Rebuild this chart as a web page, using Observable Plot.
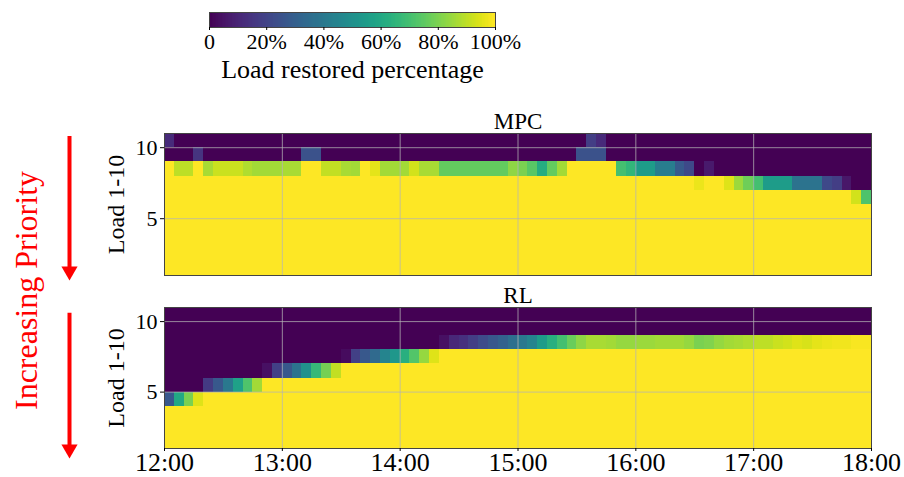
<!DOCTYPE html>
<html>
<head>
<meta charset="utf-8">
<script src="https://cdn.jsdelivr.net/npm/d3@7"></script>
<script src="https://cdn.jsdelivr.net/npm/@observablehq/plot@0.6"></script>
<style>
  body { margin: 0; background: #fff; }
  #chart { position: relative; width: 904px; height: 477px; overflow: hidden; background: #fff;
           font-family: "Liberation Serif", "Times New Roman", serif; }
  #chart > svg { position: absolute; left: 0; }
</style>
</head>
<body>
<div id="chart"></div>
<script>
// ---------- data (percent of load restored, one value per 5-minute slot, 12:00 -> 18:00) ----------
const startHour = 12;
const slotMinutes = 5;
const hourTicks = [12, 13, 14, 15, 16, 17, 18];
const loadTicks = [5, 10];
const colorTicks = [0, 20, 40, 60, 80, 100];
const panelTitles = ["MPC", "RL"];

const mpcLoad1 = [
  100,100,100,100,100,100,100,100,100,100,100,100,
  100,100,100,100,100,100,100,100,100,100,100,100,
  100,100,100,100,100,100,100,100,100,100,100,100,
  100,100,100,100,100,100,100,100,100,100,100,100,
  100,100,100,100,100,100,100,100,100,100,100,100,
  100,100,100,100,100,100,100,100,100,100,100,100];
const mpcLoad2 = [
  100,100,100,100,100,100,100,100,100,100,100,100,
  100,100,100,100,100,100,100,100,100,100,100,100,
  100,100,100,100,100,100,100,100,100,100,100,100,
  100,100,100,100,100,100,100,100,100,100,100,100,
  100,100,100,100,100,100,100,100,100,100,100,100,
  100,100,100,100,100,100,100,100,100,100,100,100];
const mpcLoad3 = [
  100,100,100,100,100,100,100,100,100,100,100,100,
  100,100,100,100,100,100,100,100,100,100,100,100,
  100,100,100,100,100,100,100,100,100,100,100,100,
  100,100,100,100,100,100,100,100,100,100,100,100,
  100,100,100,100,100,100,100,100,100,100,100,100,
  100,100,100,100,100,100,100,100,100,100,100,100];
const mpcLoad4 = [
  100,100,100,100,100,100,100,100,100,100,100,100,
  100,100,100,100,100,100,100,100,100,100,100,100,
  100,100,100,100,100,100,100,100,100,100,100,100,
  100,100,100,100,100,100,100,100,100,100,100,100,
  100,100,100,100,100,100,100,100,100,100,100,100,
  100,100,100,100,100,100,100,100,100,100,100,100];
const mpcLoad5 = [
  100,100,100,100,100,100,100,100,100,100,100,100,
  100,100,100,100,100,100,100,100,100,100,100,100,
  100,100,100,100,100,100,100,100,100,100,100,100,
  100,100,100,100,100,100,100,100,100,100,100,100,
  100,100,100,100,100,100,100,100,100,100,100,100,
  100,100,100,100,100,100,100,100,100,100,100,100];
const mpcLoad6 = [
  100,100,100,100,100,100,100,100,100,100,100,100,
  100,100,100,100,100,100,100,100,100,100,100,100,
  100,100,100,100,100,100,100,100,100,100,100,100,
  100,100,100,100,100,100,100,100,100,100,100,100,
  100,100,100,100,100,100,100,100,100,100,100,100,
  100,100,100,100,100,100,100,100,100,100,93,72];
const mpcLoad7 = [
  100,100,100,100,100,100,100,100,100,100,100,100,
  100,100,100,100,100,100,100,100,100,100,100,100,
  100,100,100,100,100,100,100,100,100,100,100,100,
  100,100,100,100,100,100,100,100,100,100,100,100,
  100,100,100,100,100,100,97,100,100,95,85,78,
  70,55,55,55,38,38,38,22,18,6,0,0];
const mpcLoad8 = [
  100,90,90,100,87,92,92,92,88,86,86,86,
  87,87,100,100,91,91,87,86,100,96,86,86,
  86,93,87,87,76,76,76,76,76,76,76,83,
  80,74,62,76,86,100,100,100,100,100,70,66,
  55,55,42,42,28,22,0,7,0,0,0,0,
  0,0,0,0,0,0,0,0,0,0,0,0];
const mpcLoad9 = [
  0,0,0,15,0,0,0,0,0,0,0,0,
  0,0,25,25,0,0,0,0,0,0,0,0,
  0,0,0,0,0,0,0,0,0,0,0,0,
  0,0,0,0,0,0,25,25,25,0,0,0,
  0,0,0,0,0,0,0,0,0,0,0,0,
  0,0,0,0,0,0,0,0,0,0,0,0];
const mpcLoad10 = [
  12,0,0,0,0,0,0,0,0,0,0,0,
  0,0,0,0,0,0,0,0,0,0,0,0,
  0,0,0,0,0,0,0,0,0,0,0,0,
  0,0,0,0,0,0,0,18,12,0,0,0,
  0,0,0,0,0,0,0,0,0,0,0,0,
  0,0,0,0,0,0,0,0,0,0,0,0];

const rlLoad1 = [
  100,100,100,100,100,100,100,100,100,100,100,100,
  100,100,100,100,100,100,100,100,100,100,100,100,
  100,100,100,100,100,100,100,100,100,100,100,100,
  100,100,100,100,100,100,100,100,100,100,100,100,
  100,100,100,100,100,100,100,100,100,100,100,100,
  100,100,100,100,100,100,100,100,100,100,100,100];
const rlLoad2 = [
  100,100,100,100,100,100,100,100,100,100,100,100,
  100,100,100,100,100,100,100,100,100,100,100,100,
  100,100,100,100,100,100,100,100,100,100,100,100,
  100,100,100,100,100,100,100,100,100,100,100,100,
  100,100,100,100,100,100,100,100,100,100,100,100,
  100,100,100,100,100,100,100,100,100,100,100,100];
const rlLoad3 = [
  100,100,100,100,100,100,100,100,100,100,100,100,
  100,100,100,100,100,100,100,100,100,100,100,100,
  100,100,100,100,100,100,100,100,100,100,100,100,
  100,100,100,100,100,100,100,100,100,100,100,100,
  100,100,100,100,100,100,100,100,100,100,100,100,
  100,100,100,100,100,100,100,100,100,100,100,100];
const rlLoad4 = [
  27,60,80,95,100,100,100,100,100,100,100,100,
  100,100,100,100,100,100,100,100,100,100,100,100,
  100,100,100,100,100,100,100,100,100,100,100,100,
  100,100,100,100,100,100,100,100,100,100,100,100,
  100,100,100,100,100,100,100,100,100,100,100,100,
  100,100,100,100,100,100,100,100,100,100,100,100];
const rlLoad5 = [
  0,0,0,0,17,27,40,57,72,86,100,100,
  100,100,100,100,100,100,100,100,100,100,100,100,
  100,100,100,100,100,100,100,100,100,100,100,100,
  100,100,100,100,100,100,100,100,100,100,100,100,
  100,100,100,100,100,100,100,100,100,100,100,100,
  100,100,100,100,100,100,100,100,100,100,100,100];
const rlLoad6 = [
  0,0,0,0,0,0,0,0,0,0,4,19,
  27,38,50,67,79,91,100,100,100,100,100,100,
  100,100,100,100,100,100,100,100,100,100,100,100,
  100,100,100,100,100,100,100,100,100,100,100,100,
  100,100,100,100,100,100,100,100,100,100,100,100,
  100,100,100,100,100,100,100,100,100,100,100,100];
const rlLoad7 = [
  0,0,0,0,0,0,0,0,0,0,0,0,
  0,0,0,0,0,0,3,19,27,34,45,53,
  63,73,84,95,100,100,100,100,100,100,100,100,
  100,100,100,100,100,100,100,100,100,100,100,100,
  100,100,100,100,100,100,100,100,100,100,100,100,
  100,100,100,100,100,100,100,100,100,100,100,100];
const rlLoad8 = [
  0,0,0,0,0,0,0,0,0,0,0,0,
  0,0,0,0,0,0,0,0,0,0,0,0,
  0,0,0,0,4,11,14,18,23,27,31,36,
  40,45,55,63,70,77,83,87,87,86,84,84,
  85,85,86,86,86,84,80,81,84,86,87,88,
  90,90,92,93,95,94,96,97,98,98,99,99];
const rlLoad9 = [
  0,0,0,0,0,0,0,0,0,0,0,0,
  0,0,0,0,0,0,0,0,0,0,0,0,
  0,0,0,0,0,0,0,0,0,0,0,0,
  0,0,0,0,0,0,0,0,0,0,0,0,
  0,0,0,0,0,0,0,0,0,0,0,0,
  0,0,0,0,0,0,0,0,0,0,0,0];
const rlLoad10 = [
  0,0,0,0,0,0,0,0,0,0,0,0,
  0,0,0,0,0,0,0,0,0,0,0,0,
  0,0,0,0,0,0,0,0,0,0,0,0,
  0,0,0,0,0,0,0,0,0,0,0,0,
  0,0,0,0,0,0,0,0,0,0,0,0,
  0,0,0,0,0,0,0,0,0,0,0,0];

const mpcRows = [mpcLoad1, mpcLoad2, mpcLoad3, mpcLoad4, mpcLoad5, mpcLoad6, mpcLoad7, mpcLoad8, mpcLoad9, mpcLoad10];
const rlRows  = [rlLoad1, rlLoad2, rlLoad3, rlLoad4, rlLoad5, rlLoad6, rlLoad7, rlLoad8, rlLoad9, rlLoad10];

// ---------- build ----------
const FONT = '"Liberation Serif", "Times New Roman", serif';
const RED = "#ff0000";
const colorScale = {type: "linear", scheme: "viridis", domain: [0, 100]};
const chart = document.getElementById("chart");

function toCells(rows) {
  const cells = [];
  rows.forEach((row, i) => {
    row.forEach((v, k) => {
      cells.push({
        t0: startHour + (k * slotMinutes) / 60,
        t1: startHour + ((k + 1) * slotMinutes) / 60,
        load: i + 1,
        value: v
      });
    });
  });
  return cells;
}

function place(el, top) {
  el.style.position = "absolute";
  el.style.top = top + "px";
  el.style.left = "0px";
  chart.appendChild(el);
}

// colour bar
const ramp = d3.range(0, 100, 0.5);
place(Plot.plot({
  width: 904, height: 95,
  marginLeft: 209, marginRight: 409, marginTop: 12, marginBottom: 68,
  style: {background: "none", fontFamily: FONT, color: "#000", overflow: "visible"},
  x: {domain: [0, 100]},
  y: {domain: [0, 1], axis: null},
  color: colorScale,
  marks: [
    Plot.rect(ramp, {x1: d => d, x2: d => d + 0.5, y1: 0, y2: 1, fill: d => d + 0.25, shapeRendering: "crispEdges"}),
    Plot.frame({stroke: "#444", strokeWidth: 1}),
    Plot.axisX(colorTicks, {tickSize: 3, tickPadding: 3, tickFormat: d => (d === 0 ? "0" : d + "%"), fontSize: 22, label: null}),
    Plot.text(["Load restored percentage"], {frameAnchor: "bottom", dy: 50, lineAnchor: "bottom", fontSize: 26, fill: "#000"})
  ]
}), 0);

function panel(title, rows, top, height, marginTop, marginBottom, showX, arrowTop, arrowBase) {
  const cells = toCells(rows);
  const marks = [
    Plot.rect(cells, {x1: "t0", x2: "t1", y1: "load", y2: d => d.load + 1, fill: "value", shapeRendering: "crispEdges"}),
    Plot.gridX(hourTicks, {stroke: "#b4b4b4", strokeOpacity: 0.75, strokeWidth: 1}),
    Plot.gridY(loadTicks, {stroke: "#b4b4b4", strokeOpacity: 0.75, strokeWidth: 1}),
    Plot.frame({stroke: "#444", strokeWidth: 1}),
    Plot.axisY(loadTicks, {tickSize: 4, tickPadding: 3, fontSize: 22, label: null}),
    Plot.text([title], {frameAnchor: "top", dy: -5, lineAnchor: "bottom", fontSize: 23, fill: "#000"}),
    Plot.text(["Load 1-10"], {frameAnchor: "left", dx: -48, rotate: -90, textAnchor: "middle", fontSize: 24, fill: "#000"}),
    // priority arrow drawn in this panel's load coordinates
    Plot.ruleX([startHour], {y1: arrowTop, y2: arrowBase, dx: -95, stroke: RED, strokeWidth: 4}),
    Plot.dot([startHour], {x: d => d, y: arrowBase, dx: -95, symbol: "triangle", r: 6, rotate: 180, fill: RED, stroke: "none"})
  ];
  if (showX) {
    marks.push(Plot.axisX(hourTicks, {tickSize: 3, tickPadding: 1, tickFormat: d => `${d}:00`, fontSize: 26, label: null}));
  }
  place(Plot.plot({
    width: 904, height,
    marginLeft: 164, marginRight: 33, marginTop, marginBottom,
    style: {background: "none", fontFamily: FONT, color: "#000", overflow: "visible"},
    x: {domain: [12, 18], axis: null},
    y: {domain: [1, 11], axis: null},
    color: colorScale,
    marks
  }), top);
}

panel(panelTitles[0], mpcRows, 95, 190, 38, 10, false, 10.79, 1.3);
panel(panelTitles[1], rlRows, 285, 192, 22, 29, true, 10.6, 0.95);

// "Increasing Priority" side annotation
place(Plot.plot({
  width: 904, height: 477,
  marginLeft: 26, marginRight: 0, marginTop: 103, marginBottom: 0,
  style: {background: "none", fontFamily: FONT, overflow: "visible"},
  marks: [
    Plot.text(["Increasing Priority"], {frameAnchor: "left", rotate: -90, textAnchor: "middle", fontSize: 32, fill: RED})
  ]
}), 0);
</script>
</body>
</html>
